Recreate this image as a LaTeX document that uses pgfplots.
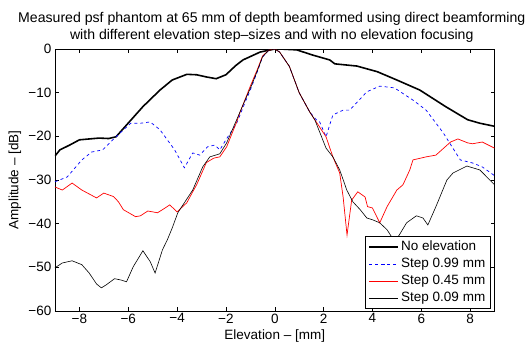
\documentclass[border=0pt]{standalone}
\usepackage{fontspec}
\setmainfont{Liberation Sans}
\usepackage{pgfplots}
\pgfplotsset{compat=1.18}
\begin{document}
\fontsize{13.5bp}{16bp}\selectfont
\begin{tikzpicture}
\path[use as bounding box] (-55bp,-32bp) rectangle (475bp,311bp);
\begin{axis}[
  scale only axis,
  width=439.5bp, height=262bp,
  xmin=-9, xmax=9, ymin=-60, ymax=0,
  xtick={-8,-6,...,8}, ytick={-60,-50,...,0},
  xticklabels={−8,−6,−4,−2,0,2,4,6,8},
  yticklabels={−60,−50,−40,−30,−20,−10,0},
  tick align=inside, major tick length=4bp,
  tick style={black, line width=0.5pt},
  axis line style={line width=0.6pt},
  tick label style={font=\fontsize{13.5bp}{16bp}\selectfont},
  xticklabel style={yshift=2bp},
  yticklabel style={xshift=1bp},
  label style={font=\fontsize{13.5bp}{16bp}\selectfont},
  xlabel={Elevation -- [mm]},
  ylabel={Amplitude -- [dB]},
  xlabel style={inner sep=0pt, yshift=-2bp},
  ylabel style={yshift=-2bp},
  title style={align=center, font=\fontsize{14.1bp}{17bp}\selectfont, yshift=-4bp, xshift=-3bp},
  title={Measured psf phantom at 65 mm of depth beamformed using direct beamforming\\with different elevation step--sizes and with no elevation focusing},
  legend style={at={(0.991,0.008)}, anchor=south east, draw=black, line width=0.6pt,
    font=\fontsize{13.5bp}{14bp}\selectfont, row sep=1.5bp, inner xsep=3bp, inner ysep=3bp,
    /tikz/every even column/.append style={column sep=1pt}},
  legend image code/.code={\draw[mark repeat=2,mark phase=2,#1] plot coordinates {(0bp,0bp) (14.5bp,0bp) (29bp,0bp)};},
  legend cell align=left,
]
\addplot[black, line width=1.6pt] coordinates {
(-9,-24.5) (-8.8,-23.1) (-8.4,-22) (-8.0,-20.8) (-7.6,-20.6) (-7.2,-20.4) (-6.8,-20.5) (-6.5,-20.1) (-6.07,-17.4) (-5.4,-13.2) (-4.7,-9.4) (-4.2,-7.1) (-3.6,-5.8) (-3.2,-5.9) (-2.8,-6.4) (-2.4,-6.8) (-2.0,-5.9) (-1.6,-3.8) (-1.3,-2.5) (-0.6,-0.7) (0,0) (0.2,0) (0.9,-0.2) (1.56,-1.4) (2.25,-2.5) (2.46,-3.4) (3.36,-3.9) (4.2,-5.2) (5.0,-7.1) (5.94,-9.4) (7.0,-13.2) (7.9,-16.2) (8.4,-17) (9,-17.7)
};
\addlegendentry{No elevation}
\addplot[blue, dashed, line width=0.7pt] coordinates {
(-9,-30.4) (-8.5,-29.3) (-7.9,-25.4) (-7.5,-23.6) (-7.05,-23.1) (-6.56,-20.4) (-5.9,-17) (-5.5,-17) (-5.1,-16.7) (-4.7,-18.5) (-4.4,-20.8) (-4.1,-23.1) (-3.7,-27.2) (-3.36,-23.8) (-3.07,-24.3) (-2.75,-22.4) (-2.46,-22) (-2.25,-23.1) (-2.0,-20.8) (-1.56,-17) (-1.2,-12) (-1.0,-9.4) (-0.7,-5) (-0.5,-1.8) (-0.25,-0.3) (0,0) (0.2,-0.7) (0.6,-4) (1.0,-10) (1.43,-14.4) (1.7,-16.2) (1.84,-16.7) (2.1,-20.1) (2.38,-15.1) (2.8,-14) (3.07,-14) (3.77,-9.8) (4.3,-8.5) (4.9,-8.9) (5.66,-11.7) (6.2,-14) (6.9,-19.2) (7.6,-25.4) (8.1,-26.1) (8.5,-27) (9,-29)
};
\addlegendentry{Step 0.99 mm}
\addplot[red, line width=0.7pt] coordinates {
(-9,-31.6) (-8.7,-32.3) (-8.3,-30.7) (-7.9,-32.3) (-7.3,-34.1) (-7.0,-33) (-6.6,-33.8) (-6.4,-35) (-6.2,-36.8) (-5.7,-38.4) (-5.5,-38.2) (-5.2,-37.1) (-4.8,-37.5) (-4.6,-36.8) (-4.3,-35.7) (-4.0,-37.3) (-3.6,-35.2) (-3.36,-32.7) (-3.2,-31.1) (-2.8,-26) (-2.5,-25) (-2.25,-24.7) (-1.97,-22.4) (-1.56,-16.7) (-1.43,-14.6) (-1.0,-8.5) (-0.7,-4.5) (-0.5,-1.6) (-0.25,-0.3) (0,0) (0.2,-0.7) (0.6,-4) (1.0,-10) (1.43,-14.4) (1.64,-16.2) (2.1,-20.1) (2.38,-24.7) (2.66,-28.4) (2.8,-33.9) (2.96,-42.6) (3.15,-34.6) (3.4,-32.7) (3.7,-33.9) (3.8,-36.1) (4.0,-36.4) (4.3,-39.8) (4.6,-36.1) (5.0,-32.3) (5.25,-31.1) (5.53,-27.7) (5.66,-25.4) (6.2,-24.7) (6.6,-24.3) (7.2,-21.3) (7.5,-20.6) (7.9,-21.5) (8.1,-21.7) (8.5,-21.3) (9,-22.7)
};
\addlegendentry{Step 0.45 mm}
\addplot[black, line width=0.6pt] coordinates {
(-9,-50.1) (-8.7,-49) (-8.3,-48.5) (-7.9,-49.4) (-7.6,-51.3) (-7.3,-53.8) (-7.1,-54.7) (-6.9,-54) (-6.56,-52.6) (-6.3,-52.9) (-6.07,-53.3) (-5.8,-49.9) (-5.4,-46.2) (-5.1,-48.7) (-4.9,-51.3) (-4.6,-46) (-4.4,-43.7) (-4.2,-41) (-3.97,-37.5) (-3.36,-32.3) (-2.95,-27) (-2.66,-24.7) (-2.25,-24) (-1.97,-21.5) (-1.56,-16.2) (-1.2,-11.5) (-1.0,-9) (-0.7,-4.8) (-0.5,-1.8) (-0.25,-0.3) (0,0) (0.2,-0.7) (0.6,-4) (1.0,-10) (1.43,-14.4) (1.64,-16.2) (2.1,-22.7) (2.38,-24.7) (2.66,-27.7) (2.95,-32.3) (3.2,-35) (3.5,-36.8) (3.77,-38.7) (4.0,-39.1) (4.3,-39.8) (4.6,-41.4) (4.9,-44) (5.1,-42.6) (5.4,-39.8) (5.8,-38.2) (6.07,-38.7) (6.27,-40.3) (6.6,-36.1) (7.05,-30) (7.3,-28.4) (7.87,-26.8) (8.4,-27.7) (9,-31.1)
};
\addlegendentry{Step 0.09 mm}
\end{axis}
\end{tikzpicture}
\end{document}
